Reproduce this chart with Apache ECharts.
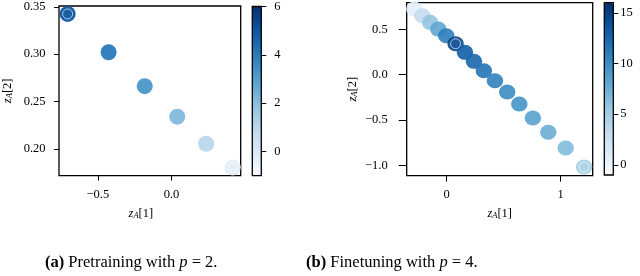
<!DOCTYPE html>
<html><head><meta charset="utf-8">
<script src="https://cdn.jsdelivr.net/npm/echarts@6/dist/echarts.min.js"></script>
<style>html,body{margin:0;padding:0;background:#fff}#c{width:640px;height:276px}</style>
</head><body><div id="c"></div><script>
// ---- data: (a) pretraining p=2 ----
const leftX = [-0.705, -0.427, -0.182, 0.0385, 0.2345, 0.415];
const leftY = [0.3426, 0.3021, 0.2662, 0.2339, 0.2053, 0.1801];
const leftC = [5, 4, 3.2, 2.1, 1, -0.3];
const leftRing = [0, 5];
const leftXTicks = [-0.5, 0.0];
const leftYTicks = [0.20, 0.25, 0.30, 0.35];
const leftCbarTicks = [0, 2, 4, 6];
// ---- data: (b) finetuning p=4 ----
const rightX = [-0.284, -0.214, -0.146, -0.074, -0.004, 0.078, 0.160, 0.239, 0.326, 0.423, 0.531, 0.637, 0.756, 0.891, 1.044, 1.205];
const rightY = [0.722, 0.648, 0.576, 0.502, 0.429, 0.341, 0.246, 0.147, 0.044, -0.066, -0.190, -0.322, -0.475, -0.633, -0.806, -1.015];
const rightC = [0.5, 3.3, 5.8, 8, 10.9, 14.5, 13, 12.4, 11.6, 10.7, 10, 9.5, 8.4, 7.5, 6.5, 5];
const rightRing = [5, 15];
const rightXTicks = [0, 1];
const rightYTicks = [-1.0, -0.5, 0.0, 0.5];
const rightCbarTicks = [0, 5, 10, 15];
const captionA = ['(a)', ' Pretraining with ', 'p', ' = 2.'];
const captionB = ['(b)', ' Finetuning with ', 'p', ' = 4.'];

const blues = ['#f7fbff','#deebf7','#c6dbef','#9ecae1','#6baed6','#4292c6','#2171b5','#08519c','#08306b'];
const F = '"Liberation Serif", "Times New Roman", serif';
const num = d => v => (v < 0 ? '\u2212' : '') + Math.abs(v).toFixed(d);
const pts = (xs, ys, cs) => xs.map((x, i) => [x, ys[i], cs[i]]);
const ringPts = (xs, ys, idx) => idx.map(i => [xs[i], ys[i]]);

const lab = {color: '#000', fontFamily: F, fontSize: 12.5};
const nameStyle = {
  color: '#000', fontFamily: F, fontSize: 12,
  rich: {
    i: {fontStyle: 'italic', fontFamily: F, fontSize: 12.5, color: '#000'},
    s: {fontStyle: 'italic', fontFamily: F, fontSize: 8.5, color: '#000', padding: [4, 0, 0, 0]},
    n: {fontFamily: F, fontSize: 12.5, color: '#000'}
  }
};
function valAxis(grid, min, max, ticks, d, margin, tlen, extra) {
  return Object.assign({
    gridIndex: grid, type: 'value', min: min, max: max,
    axisLine: {show: false, onZero: false}, splitLine: {show: false},
    axisTick: {customValues: ticks, show: true, inside: false, length: tlen, lineStyle: {color: '#000', width: 1}},
    axisLabel: Object.assign({customValues: ticks, formatter: num(d), margin: margin}, lab)
  }, extra || {});
}
const hidden = g => ({gridIndex: g, type: 'value', min: 0, max: 1, show: false});

const option = {
  animation: false,
  backgroundColor: '#fff',
  grid: [
    {left: 58.3, top: 6, width: 182.4, height: 169.7, show: true, borderColor: '#000', borderWidth: 1.3},
    {left: 406.7, top: 2.7, width: 186, height: 173, show: true, borderColor: '#000', borderWidth: 1.3},
    {left: 252.3, top: 6, width: 9, height: 169.7, show: true, borderColor: '#000', borderWidth: 1.3, z: 10},
    {left: 604.3, top: 2.7, width: 9, height: 172.3, show: true, borderColor: '#000', borderWidth: 1.3, z: 10}
  ],
  xAxis: [
    valAxis(0, -0.7635, 0.469, leftXTicks, 1, 13, 5, {name: '{i|z}{s|A}{n|[1]}', nameLocation: 'middle', nameGap: 32, nameTextStyle: Object.assign({padding: [0, 18, 0, 0]}, nameStyle)}),
    valAxis(1, -0.351, 1.281, rightXTicks, 0, 13, 6, {name: '{i|z}{s|A}{n|[1]}', nameLocation: 'middle', nameGap: 32, nameTextStyle: nameStyle}),
    hidden(2), hidden(3)
  ],
  yAxis: [
    valAxis(0, 0.1715, 0.351, leftYTicks, 2, 13.5, 5, {name: '{i|z}{s|A}{n|[2]}', nameLocation: 'middle', nameGap: 45, nameTextStyle: nameStyle}),
    valAxis(1, -1.11, 0.792, rightYTicks, 1, 19, 8, {name: '{i|z}{s|A}{n|[2]}', nameLocation: 'middle', nameGap: 47, nameTextStyle: nameStyle}),
    valAxis(2, -1, 6, leftCbarTicks, 0, 13, 5, {position: 'right', z: 10}),
    valAxis(3, -1, 16, rightCbarTicks, 0, 7, 5, {position: 'right', z: 10})
  ],
  visualMap: [
    {type: 'continuous', seriesIndex: 0, dimension: 2, min: -1, max: 6, inRange: {color: blues},
     left: 252.3, top: 6, itemWidth: 9, itemHeight: 169.7, calculable: false, padding: 0, hoverLink: false},
    {type: 'continuous', seriesIndex: 2, dimension: 2, min: -1, max: 16, inRange: {color: blues},
     left: 604.3, top: 2.7, itemWidth: 9, itemHeight: 172.3, calculable: false, padding: 0, hoverLink: false}
  ],
  series: [
    {type: 'scatter', xAxisIndex: 0, yAxisIndex: 0, data: pts(leftX, leftY, leftC), symbolSize: 16, itemStyle: {opacity: 0.95}},
    {type: 'scatter', xAxisIndex: 0, yAxisIndex: 0, data: ringPts(leftX, leftY, leftRing), symbolSize: 10,
     itemStyle: {color: 'rgba(0,0,0,0)', borderColor: 'rgba(255,255,255,0.8)', borderWidth: 1}},
    {type: 'scatter', xAxisIndex: 1, yAxisIndex: 1, data: pts(rightX, rightY, rightC), symbolSize: [16.5, 15], itemStyle: {opacity: 0.9}},
    {type: 'scatter', xAxisIndex: 1, yAxisIndex: 1, data: ringPts(rightX, rightY, rightRing), symbolSize: 10,
     itemStyle: {color: 'rgba(0,0,0,0)', borderColor: 'rgba(255,255,255,0.8)', borderWidth: 1}}
  ],
  graphic: [captionA, captionB].map((c, k) => ({
    type: 'text', left: k === 0 ? 45 : 306, top: 254,
    style: {
      text: '{b|' + c[0] + '}{r|' + c[1] + '}{i|' + c[2] + '}{r|' + c[3] + '}',
      fill: '#000', fontFamily: F, fontSize: 16.5,
      rich: {
        b: {fontWeight: 'bold', fontFamily: F, fontSize: 16.5, fill: '#000'},
        r: {fontFamily: F, fontSize: 16.5, fill: '#000'},
        i: {fontStyle: 'italic', fontFamily: F, fontSize: 16.5, fill: '#000'}
      }
    }
  }))
};
const chart = echarts.init(document.getElementById('c'), null, {renderer: 'canvas'});
chart.setOption(option);
</script></body></html>
